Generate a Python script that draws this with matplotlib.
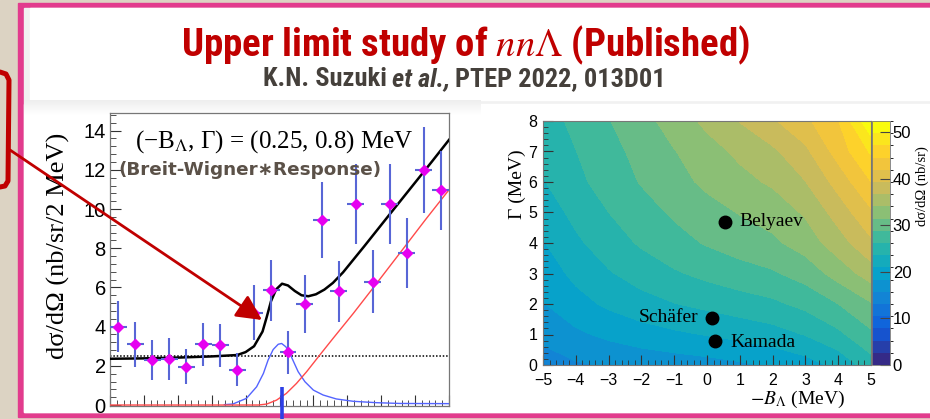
import numpy as np
import matplotlib.pyplot as plt
from matplotlib.colors import LinearSegmentedColormap, ListedColormap, BoundaryNorm
from matplotlib.patches import Rectangle, FancyArrowPatch
from matplotlib.ticker import MultipleLocator, NullFormatter

plt.rcParams['mathtext.fontset'] = 'stix'

SANS = 'Liberation Sans'
SERIF = 'Liberation Serif'
NARROW = ['Roboto Condensed', 'Liberation Sans Narrow', 'Roboto', 'DejaVu Sans']

W, H = 930, 419

# missing-mass spectrum, 2 MeV bins in -B_Lambda
bin_center = [-19, -17, -15, -13, -11, -9, -7, -5, -3, -1,
              1, 3, 5, 7, 9, 11, 13, 15, 17, 19]
xsec = [4.0, 3.1, 2.3, 2.35, 1.95, 3.1, 3.05, 1.8, 4.7, 5.85,
        2.7, 5.15, 9.45, 5.8, 10.25, 6.3, 10.25, 7.75, 12.0, 10.95]
xsec_err = [1.3, 1.15, 1.0, 1.05, 0.9, 1.1, 1.1, 0.85, 1.4, 1.55,
            1.1, 1.5, 1.95, 1.55, 2.05, 1.6, 2.05, 1.8, 2.2, 2.0]

# total fit (black)
fit_x = [-20, -16, -12, -8, -5, -4, -3, -2, -1.5, -1, -0.4, 0.3, 1.0,
         1.8, 2.6, 3.4, 4.3, 5.3, 6.3, 7.5, 10, 13, 16, 18, 20]
fit_y = [2.36, 2.38, 2.42, 2.48, 2.55, 2.7, 3.0, 3.75, 4.5, 5.3, 5.9, 6.19, 6.1,
         5.82, 5.6, 5.55, 5.65, 5.89, 6.23, 6.77, 8.1, 9.73, 11.35, 12.43, 13.53]

# quasi-free background (red)
qf_x = [-20, -2.5, -1.5, -0.35, 0.8, 2.0, 3.2, 4.75, 6.3, 8.7, 11.0, 14.2, 17.3, 20]
qf_y = [0.0, 0.0, 0.05, 0.25, 0.59, 1.1, 1.7, 2.55, 3.39, 4.67, 5.95, 7.75, 9.5, 10.98]

# Breit-Wigner folded with the response (blue)
bw_x = [-6.5, -5.5, -3.9, -2.7, -1.9, -1.35, -0.75, -0.15, 0.25, 0.75, 1.4,
        2.2, 3.0, 4.0, 5.15, 6.7, 8.7, 11.4, 14.2, 20]
bw_y = [0.02, 0.05, 0.34, 0.93, 1.61, 2.29, 2.83, 3.1, 3.14, 2.97, 2.46,
        1.7, 1.19, 0.76, 0.51, 0.31, 0.19, 0.12, 0.08, 0.07]

flat_level = 2.5
peak_pos = 0.25

# upper-limit map d sigma / d Omega (nb/sr) on a (-B_Lambda, Gamma) grid
minus_b = [-5, -4, -3, -2, -1, 0, 1, 2, 3, 4, 5]
gamma = [0, 1, 2, 3, 4, 5, 6, 7, 8]
limit = [
    [14.5, 15.4, 16.0, 16.5, 16.9, 17.3, 17.9, 18.7, 19.8, 21.7, 25.0],
    [16.4, 17.84, 18.92, 19.8, 20.49, 21.1, 21.76, 22.51, 23.7, 25.6, 28.3],
    [18.2, 20.02, 21.43, 22.57, 23.49, 24.25, 24.98, 25.67, 26.9, 28.8, 31.2],
    [19.5, 21.62, 23.33, 24.73, 25.89, 26.87, 27.73, 28.49, 29.9, 32.5, 35.3],
    [20.8, 23.08, 24.95, 26.53, 27.88, 29.05, 30.05, 30.93, 32.6, 35.5, 38.8],
    [22.1, 24.31, 26.19, 27.78, 29.2, 30.49, 31.57, 32.53, 34.4, 37.8, 41.5],
    [23.4, 25.51, 27.36, 28.99, 30.52, 31.98, 33.27, 34.45, 36.6, 40.3, 44.5],
    [24.2, 26.15, 27.95, 29.64, 31.32, 33.04, 34.62, 36.17, 38.7, 43.0, 47.5],
    [25.0, 26.85, 28.7, 30.55, 32.55, 34.7, 36.8, 38.95, 41.35, 44.4, 52.0],
]
theory_name = ['Belyaev', 'Schäfer', 'Kamada']
theory_b = [0.55, 0.15, 0.25]
theory_gamma = [4.7, 1.55, 0.8]


def box(x0, y0, x1, y1):
    """pixel rectangle (top-left origin) -> figure fraction"""
    return [x0 / W, 1 - y1 / H, (x1 - x0) / W, (y1 - y0) / H]


fig = plt.figure(figsize=(W / 100, H / 100), dpi=100)
renderer = fig.canvas.get_renderer()

# slide background
bg = fig.add_axes([0, 0, 1, 1], zorder=0)
bg.axis('off')
bg.add_patch(Rectangle((0, 0), W, H, color='#dcd3c3'))
bg.add_patch(Rectangle((18, 3), W, 414, color='#e23b8d'))
bg.add_patch(Rectangle((24, 8), W, 404, color='#f1f1f1'))
bg.add_patch(Rectangle((30, 8), W, 92, color='white'))
bg.add_patch(Rectangle((24, 104), W, 308, color='white'))
shade = np.linspace(0.93, 1.0, 16).reshape(-1, 1)
bg.imshow(shade, cmap='gray', vmin=0, vmax=1, extent=(24, 480, 116, 100),
          aspect='auto', zorder=1)
bg.set_xlim(0, W)
bg.set_ylim(H, 0)

# title block, sized to its line width
title = fig.text(465 / W, 1 - 56 / H,
                 r'Upper limit study of $nn\mathit{\Lambda}$ (Published)',
                 ha='center', va='baseline', fontsize=24, fontweight='bold',
                 color='#c00000', family=NARROW)
tw = title.get_window_extent(renderer).width
title.set_fontsize(24 * 570 / tw)

runs = [('K.N. Suzuki', 'normal'), ('et al.,', 'italic'), ('PTEP 2022, 013D01', 'normal')]
pieces = []
for s, st in runs:
    t = fig.text(0, 1 - 86 / H, s, style=st, va='baseline', fontsize=14,
                 fontweight='bold', color='#45403b', family=NARROW)
    pieces.append(t)
gap = 5
raw = sum(t.get_window_extent(renderer).width for t in pieces)
scale = (403 - gap * 2) / raw
widths = []
for t in pieces:
    t.set_fontsize(14 * scale)
    widths.append(t.get_window_extent(renderer).width)
xpos = 464 - (sum(widths) + gap * (len(pieces) - 1)) / 2
for t, w in zip(pieces, widths):
    t.set_x(xpos / W)
    xpos += w + gap

# ---------------- left: spectrum ----------------
ax = fig.add_axes(box(110, 113, 449, 406), zorder=2)
ax.set_xlim(-20, 20)
ax.set_ylim(-0.05, 14.9)

ax.axhline(flat_level, color='black', lw=1.1, ls=(0, (1, 1.2)), zorder=2)
ax.plot(bw_x, bw_y, color='#5464ff', lw=1.0, zorder=3)
ax.plot(qf_x, qf_y, color='#ff4a4a', lw=1.0, zorder=3)
ax.plot(fit_x, fit_y, color='black', lw=1.8, zorder=4)
ax.errorbar(bin_center, xsec, yerr=xsec_err, xerr=1.0, fmt='none',
            ecolor='#5866d6', elinewidth=1.5, capsize=0, zorder=5)
ax.plot(bin_center, xsec, 'D', color='#e600f0', ms=5.5, mec='#e600f0', zorder=6)
ax.plot([peak_pos, peak_pos], [-0.75, 0.92], color='#2d3fe6', lw=2.6,
        solid_capstyle='butt', clip_on=False, zorder=7)

ax.text(-17.05, 13.44, '(−B$_{\\Lambda}$, Γ) = (0.25, 0.8) MeV', family=SERIF,
        fontsize=18, va='center', ha='left', color='black', zorder=8)
ax.text(-19.06, 11.97, '(Breit-Wigner∗Response)', family='DejaVu Sans',
        fontweight='bold', fontsize=13.2, va='center', ha='left',
        color='#5b5148', zorder=8)

ax.xaxis.set_major_locator(MultipleLocator(4))
ax.xaxis.set_minor_locator(MultipleLocator(0.8))
ax.yaxis.set_major_locator(MultipleLocator(2))
ax.yaxis.set_minor_locator(MultipleLocator(0.4))
ax.xaxis.set_major_formatter(NullFormatter())
ax.tick_params(which='both', direction='in', top=False, right=False, color='#333333')
ax.tick_params(which='major', length=8, width=0.8)
ax.tick_params(which='minor', length=4, width=0.6)
ax.tick_params(axis='y', labelsize=14.5, pad=3)
for lab in ax.get_yticklabels():
    lab.set_family(SANS)
for sp in ax.spines.values():
    sp.set_color('#777777')
    sp.set_linewidth(0.9)

fig.text(58 / W, 1 - 246 / H, 'dσ/dΩ (nb/sr/2 MeV)', rotation=90, family=SERIF,
         fontsize=19, ha='center', va='center')

# ---------------- right: upper-limit map ----------------
ax2 = fig.add_axes(box(543, 121, 871, 365), zorder=2)
stops = [0.0, 0.125, 0.25, 0.375, 0.5, 0.625, 0.75, 0.875, 1.0]
bird_r = [0.2082, 0.0592, 0.0780, 0.0232, 0.1802, 0.5301, 0.8186, 0.9956, 0.9764]
bird_g = [0.1664, 0.3599, 0.5041, 0.6419, 0.7178, 0.7492, 0.7328, 0.7862, 0.9832]
bird_b = [0.5293, 0.8684, 0.8385, 0.7914, 0.6425, 0.4662, 0.3499, 0.1968, 0.0539]
bird = LinearSegmentedColormap.from_list(
    'bird', list(zip(stops, zip(bird_r, bird_g, bird_b))))
n_bands = 20
levels = np.linspace(0, 52.4, n_bands + 1)
band_cmap = ListedColormap([bird(k / (n_bands - 1)) for k in range(n_bands)])
norm = BoundaryNorm(levels, n_bands)

cs = ax2.contourf(minus_b, gamma, np.array(limit), levels=levels,
                  cmap=band_cmap, norm=norm)
ax2.plot(theory_b, theory_gamma, 'o', color='black', ms=9, zorder=5)
ax2.text(theory_b[0] + 0.43, theory_gamma[0], theory_name[0], family=SERIF,
         fontsize=14, va='center', ha='left')
ax2.text(theory_b[1] - 0.42, theory_gamma[1], theory_name[1], family=SERIF,
         fontsize=14, va='center', ha='right')
ax2.text(theory_b[2] + 0.45, theory_gamma[2] - 0.05, theory_name[2], family=SERIF,
         fontsize=14, va='center', ha='left')

ax2.set_xlim(-5, 5)
ax2.set_ylim(0, 8)
ax2.xaxis.set_major_locator(MultipleLocator(1))
ax2.xaxis.set_minor_locator(MultipleLocator(0.2))
ax2.yaxis.set_major_locator(MultipleLocator(1))
ax2.yaxis.set_minor_locator(MultipleLocator(0.2))
ax2.tick_params(which='both', direction='in', top=False, right=False, color='#333333')
ax2.tick_params(which='major', length=7, width=0.8, labelsize=11.5)
ax2.tick_params(which='minor', length=3.5, width=0.6)
ax2.tick_params(axis='x', pad=6)
ax2.tick_params(axis='y', pad=4)
for lab in ax2.get_xticklabels() + ax2.get_yticklabels():
    lab.set_family(SANS)
for sp in ax2.spines.values():
    sp.set_color('#777777')
    sp.set_linewidth(0.8)

fig.text(517 / W, 1 - 184 / H, 'Γ (MeV)', rotation=90, family=SERIF,
         fontsize=14, ha='center', va='center')
fig.text(797 / W, 1 - 399 / H, r'$-B_{\Lambda}$ (MeV)', family=SERIF,
         fontsize=14, ha='center', va='center')

cax = fig.add_axes(box(872, 121, 890, 365), zorder=2)
cb = fig.colorbar(cs, cax=cax, ticks=[0, 10, 20, 30, 40, 50])
cb.outline.set_linewidth(0.6)
cb.outline.set_edgecolor('#777777')
cax.tick_params(direction='in', length=7, width=0.8, labelsize=12, pad=2,
                color='#444444')
for lab in cax.get_yticklabels():
    lab.set_family(SANS)
fig.text(922 / W, 1 - 186 / H, 'dσ/dΩ (nb/sr)', rotation=90, family=SERIF,
         fontsize=10.5, ha='center', va='center')

# pointer bracket and arrow on top
top = fig.add_axes([0, 0, 1, 1], zorder=20)
top.set_xlim(0, W)
top.set_ylim(H, 0)
top.axis('off')
top.patch.set_alpha(0)
top.plot([0, 6, 9, 8.5, 8, 5, 0], [72, 74, 80, 130, 181, 186, 187],
         color='#c00000', lw=3.6, solid_capstyle='round', solid_joinstyle='round')
top.add_patch(FancyArrowPatch((10, 150), (262, 320),
                              arrowstyle='-|>,head_length=0.7,head_width=0.35',
                              mutation_scale=22, lw=2.0, color='#c00000',
                              shrinkA=0, shrinkB=0))

fig.savefig('out.png', dpi=100)
